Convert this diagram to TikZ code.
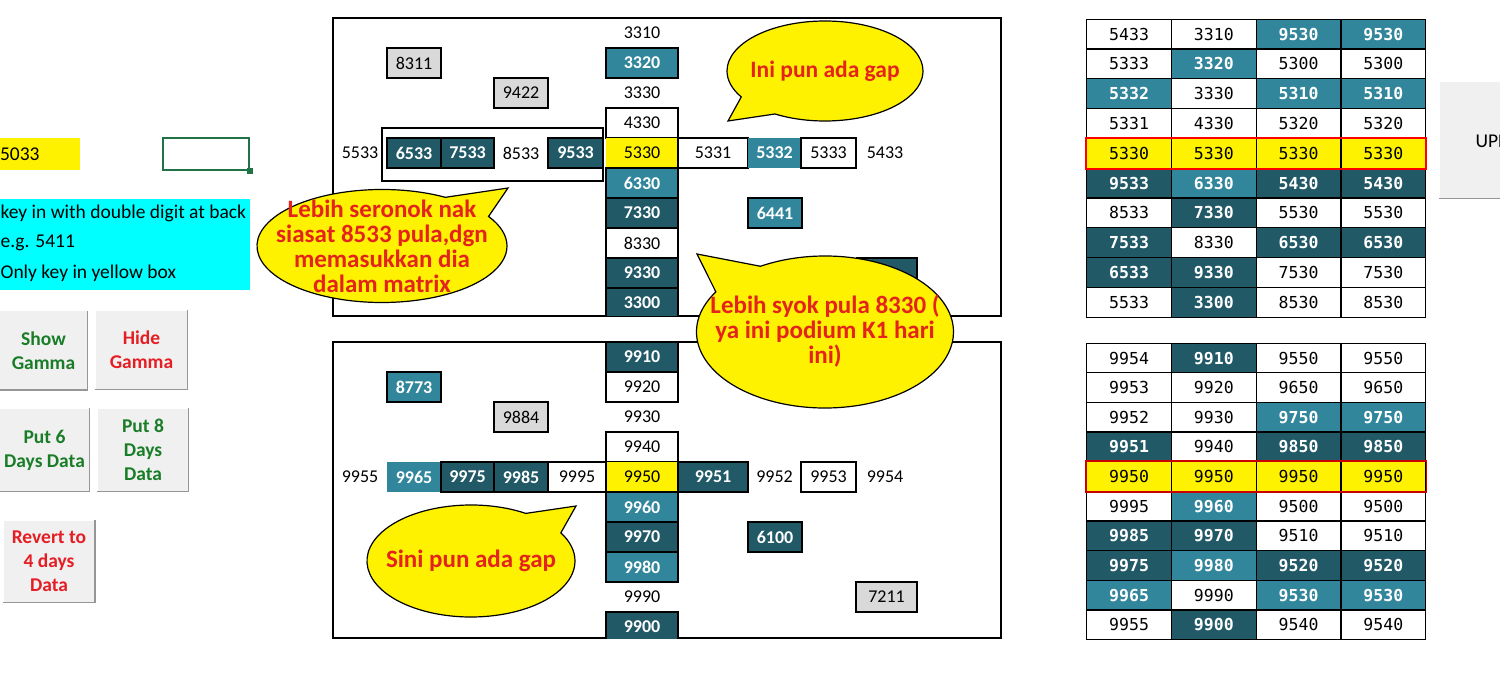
\documentclass[tikz,border=0pt]{standalone}
\usepackage{fontspec}
\setmainfont{Carlito}
\newfontfamily\monofont{DejaVu Sans Mono}
\usetikzlibrary{matrix, shapes.callouts}

\definecolor{tealdk}{RGB}{33,89,103}
\definecolor{tealmd}{RGB}{49,134,155}
\definecolor{cellgrey}{RGB}{217,217,217}
\definecolor{cyanbox}{RGB}{0,255,255}
\definecolor{btnface}{RGB}{240,240,240}
\definecolor{btnedge}{RGB}{150,150,150}
\definecolor{btnred}{RGB}{228,30,36}
\definecolor{btngreen}{RGB}{25,125,40}
\definecolor{redtxt}{RGB}{228,36,28}
\definecolor{xlgreen}{RGB}{33,115,70}

\newcommand{\numfont}{\fontsize{18}{20}\selectfont}
\newcommand{\txtfont}{\fontsize{19.5}{24}\selectfont}
\newcommand{\tblfont}{\monofont\fontsize{16.5}{18}\selectfont}
\newcommand{\bubfont}{\bfseries\fontsize{25}{25}\selectfont}

\begin{document}
\begin{tikzpicture}[
    x=1pt, y=-1pt, line width=1.2pt,
    cell/.style={minimum width=54, minimum height=30, inner sep=0, font=\numfont},
    pl/.style={},
    wb/.style={draw, fill=white},
    gy/.style={draw, fill=cellgrey},
    yl/.style={fill=yellow},
    dk/.style={draw, fill=tealdk, text=white, font=\numfont\bfseries},
    md/.style={draw, fill=tealmd, text=white, font=\numfont\bfseries},
    mdn/.style={fill=tealmd, text=white, font=\numfont\bfseries},
    num-tbl/.style={matrix of nodes, anchor=north west, inner sep=0, row sep=-\pgflinewidth, column sep=-\pgflinewidth, nodes={draw, minimum width=84.75, inner sep=0, font=\tblfont}},
    tdk/.style={fill=tealdk, text=white, font=\tblfont\bfseries},
    tmd/.style={fill=tealmd, text=white, font=\tblfont\bfseries},
    tyl/.style={fill=yellow},
    btn/.style={fill=btnface, inner sep=0, align=center, font=\bfseries\txtfont},
    bubble/.style={ellipse callout, draw=black, fill=yellow, callout pointer arc=28, inner sep=0},
    bubtxt/.style={text=redtxt, align=center, inner sep=0, font=\bubfont}
  ]
  \useasboundingbox (0,0) rectangle (1500,692);

  % input area on the left
  \node[fill=yellow, minimum height=32, text width=80, inner sep=0, align=left, font=\txtfont] (inval) at (40,154) {5033};
  \node[draw=xlgreen, minimum width=86, minimum height=32] (selcell) at (206,154) {};
  \fill[xlgreen] (selcell.south east) ++(-3,-3) rectangle ++(6,6);

  \node[fill=cyanbox, minimum width=250, minimum height=91, inner sep=0] (hint) at (125,244.5) {};
  \foreach \ln [count=\k] in {key in with double digit at back, e.g. 5411, Only key in yellow box}
    \node[anchor=west, inner sep=0, font=\txtfont] (hint\k) at (0,183+30*\k) {\ln};

  \node[btn, text=btngreen, minimum width=87, minimum height=78] (showg) at (43.5,350.5) {Show\\Gamma};
  \node[btn, text=btnred, minimum width=91, minimum height=78] (hideg) at (141.5,350) {Hide\\Gamma};
  \node[btn, text=btngreen, minimum width=89, minimum height=82] (put6) at (44.5,450) {Put 6\\Days Data};
  \node[btn, text=btngreen, minimum width=90, minimum height=82] (put8) at (143,450) {Put 8\\Days\\Data};
  \node[btn, text=btnred, minimum width=91, minimum height=81] (revert) at (49,561.5) {Revert to\\4 days\\Data};
  \foreach \b in {showg, hideg, put6, put8, revert}
    \draw[btnedge, line width=1.5] (\b.north east) -- (\b.south east) -- (\b.south west);

  % the two crosses
  \draw (333,18) rectangle (1001,316);
  \draw (333,342) rectangle (1001,638);

  \begin{scope}
    \clip (333,18) rectangle (1001,316);
    \node[cell, gy] (t8311) at (414,63) {8311};
    \node[cell, gy] (t9422) at (521,93) {9422};
    \node[cell, md] (t6441) at (775,213) {6441};
    \node[cell, dk, minimum width=60] (thid) at (887,273) {};
    \foreach \t/\s [count=\i] in {3310/pl, 3320/md, 3330/pl, 4330/wb, 5330/yl, 6330/md, 7330/dk, 8330/wb, 9330/dk, 3300/dk}
      \node[cell, \s, minimum width=72] (tc\i) at (642,3+30*\i) {\t};
    \foreach \x/\w/\t/\s [count=\i] in {360/54/5533/pl, 414/54/6533/dk, 467.5/53/7533/dk, 521/54/8533/pl, 575.5/55/9533/dk, 713/70/5331/wb, 774.5/53/5332/mdn, 828.5/55/5333/wb, 885/58/5433/pl}
      \node[cell, \s, minimum width=\w] (tr\i) at (\x,153) {\t};
    \draw (382,128) rectangle (603,181);
  \end{scope}

  \begin{scope}
    \clip (333,342) rectangle (1001,638);
    \node[cell, md] (b8773) at (414,387) {8773};
    \node[cell, gy] (b9884) at (521,417) {9884};
    \node[cell, dk] (b6100) at (775,537) {6100};
    \node[cell, gy, minimum width=61] (b7211) at (886.5,597) {7211};
    \foreach \t/\s [count=\i] in {9910/dk, 9920/wb, 9930/pl, 9940/wb, 9950/yl, 9960/md, 9970/dk, 9980/md, 9990/pl, 9900/dk}
      \node[cell, \s, minimum width=72] (bc\i) at (642,327+30*\i) {\t};
    \foreach \x/\w/\t/\s [count=\i] in {360/54/9955/pl, 414/54/9965/mdn, 467.5/53/9975/dk, 521/54/9985/dk, 577/58/9995/wb, 713/70/9951/dk, 774.5/53/9952/pl, 828.5/55/9953/wb, 885/58/9954/pl}
      \node[cell, \s, minimum width=\w] (br\i) at (\x,477) {\t};
  \end{scope}

  % tables on the right
  \matrix (tA) [num-tbl, nodes={minimum height=29.8}] at (1085.5,18) {
    5433 & 3310 & |[tmd]| 9530 & |[tmd]| 9530 \\
    5333 & |[tmd]| 3320 & 5300 & 5300 \\
    |[tmd]| 5332 & 3330 & |[tmd]| 5310 & |[tmd]| 5310 \\
    5331 & 4330 & 5320 & 5320 \\
    |[tyl]| 5330 & |[tyl]| 5330 & |[tyl]| 5330 & |[tyl]| 5330 \\
    |[tdk]| 9533 & |[tmd]| 6330 & |[tdk]| 5430 & |[tdk]| 5430 \\
    8533 & |[tdk]| 7330 & 5530 & 5530 \\
    |[tdk]| 7533 & 8330 & |[tdk]| 6530 & |[tdk]| 6530 \\
    |[tdk]| 6533 & |[tdk]| 9330 & 7530 & 7530 \\
    5533 & |[tdk]| 3300 & 8530 & 8530 \\
  };
  \draw[red, line width=2] (tA-5-1.north west) rectangle (tA-5-4.south east);

  \matrix (tB) [num-tbl, nodes={minimum height=29.6}] at (1085.5,342) {
    9954 & |[tdk]| 9910 & 9550 & 9550 \\
    9953 & 9920 & 9650 & 9650 \\
    9952 & 9930 & |[tmd]| 9750 & |[tmd]| 9750 \\
    |[tdk]| 9951 & 9940 & |[tdk]| 9850 & |[tdk]| 9850 \\
    |[tyl]| 9950 & |[tyl]| 9950 & |[tyl]| 9950 & |[tyl]| 9950 \\
    9995 & |[tmd]| 9960 & 9500 & 9500 \\
    |[tdk]| 9985 & |[tdk]| 9970 & 9510 & 9510 \\
    |[tdk]| 9975 & |[tmd]| 9980 & |[tdk]| 9520 & |[tdk]| 9520 \\
    |[tmd]| 9965 & 9990 & |[tmd]| 9530 & |[tmd]| 9530 \\
    9955 & |[tdk]| 9900 & 9540 & 9540 \\
  };
  \draw[red!80!black, line width=1.5] (tB-5-1.north west) rectangle (tB-5-4.south east);

  \node[fill=btnface, minimum width=70, minimum height=116, inner sep=0] (upd) at (1475,140) {};
  \draw[btnedge, line width=1.5] (upd.south west) -- (upd.south east);
  \node[anchor=west, inner sep=0, font=\txtfont] (updtxt) at (1475,141) {UPD};

  % callouts
  \node[bubble, minimum width=196, minimum height=100, callout absolute pointer={(728,121)}] (gapA) at (825,71) {};
  \node[bubtxt, font=\bfseries\fontsize{23.5}{25}\selectfont] (gapAt) at (gapA.center) {Ini pun ada gap};

  \node[bubble, minimum width=250, minimum height=113, callout absolute pointer={(508,188)}] (serA) at (382,246) {};
  \node[bubtxt] (serAt) at (serA.center) {Lebih seronok nak\\siasat 8533 pula,dgn\\memasukkan dia\\dalam matrix};

  \node[bubble, minimum width=257, minimum height=152, callout absolute pointer={(697,254)}] (syokA) at (825,332) {};
  \node[bubtxt] (syokAt) at (825,331) {Lebih syok pula 8330 (\\ya ini podium K1 hari\\ini)};

  \node[bubble, minimum width=208, minimum height=112, callout absolute pointer={(576,506)}] (sini) at (471,561) {};
  \node[bubtxt] (sinit) at (sini.center) {Sini pun ada gap};
\end{tikzpicture}
\end{document}
